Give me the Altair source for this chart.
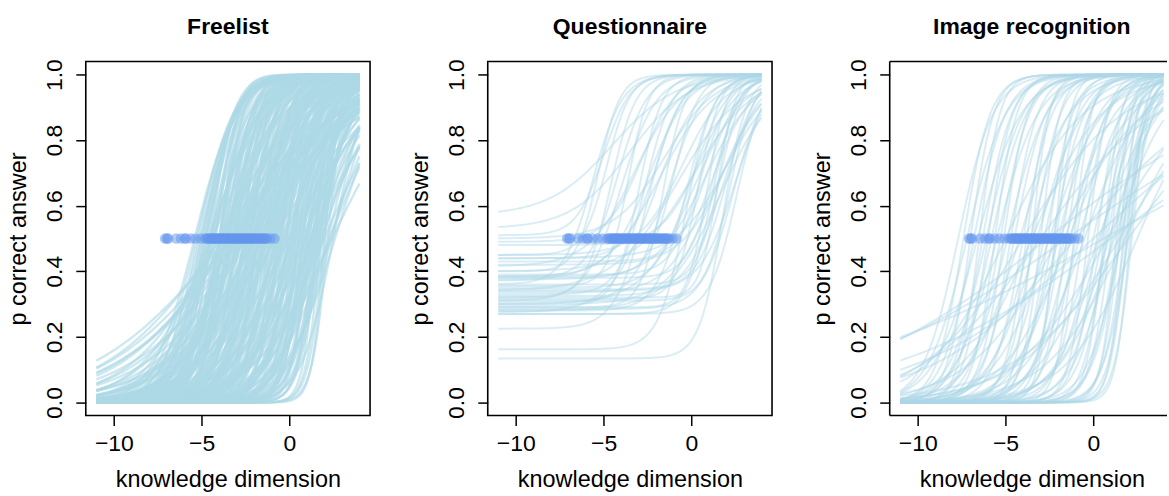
import numpy as np
import pandas as pd
import altair as alt

alt.data_transformers.disable_max_rows()

# ---------------- item parameters ----------------
# Freelist: difficulty (b) and discrimination (a)
free_b = [-5.4, -5.3, -5.2, -5.1, -5.0, -4.7, -4.8, -4.5, -4.4, -4.5, -4.2, -4.3, -4.0, -3.9, -4.0, -3.9, -3.8, -3.7, -3.6, -3.5,
          -3.6, -3.2, -3.0, -2.8, -3.4, -4.0, -2.5, -3.8, -2.2, -4.4, -2.0, -3.0, -1.8, -4.6, -2.6, -1.5, -3.3, -3.9, -2.4, -1.0,
          -3.4, -3.3, -3.2, -3.1, -3.0, -2.9, -2.8, -2.7, -2.6, -2.5, -2.4, -2.3, -2.2, -2.1, -2.0, -1.9, -1.8, -1.7, -1.6, -1.5,
          -1.4, -1.3, -1.2, -1.1, -1.0, -0.9, -0.8, -0.7, -0.6, -0.5, -0.4, -0.3, -0.2, -0.1, 0.0, -2.75, -2.15, -1.65, -1.25, -0.85,
          -0.45, -3.05, -2.45, -1.95, -1.35, -0.95, -0.55, -0.15, -3.45, -2.05,
          0.1, 0.2, 0.3, 0.4, 0.5, 0.6, 0.7, 0.8, 0.9, 1.0, 1.1, 1.2, 1.3, 1.4, 1.5, 1.6, 1.7, 1.8, 1.9, 2.0, 2.05,
          0.15, 0.45, 0.85, 1.25, 0.35, 0.75, 1.15, 1.55, 0.05, 0.55, 0.95, 1.35, 1.75, 1.45,
          2.45, 2.3, 2.6, 2.0, 2.4, 1.8, 2.2, 1.6, 2.5, 1.9, 2.3, 1.3, 2.2,
          -4.9, -4.6, -4.3, -4.0, -3.85, -3.7, -3.55, -3.4, -3.25, -3.1, -2.95, -2.8, -2.65, -2.5,
          -2.35, -2.2, -2.05, -1.9, -1.75, -1.6, -1.45, -1.3, -1.15, -1.0, -0.85, -0.7, -0.55, -0.4, -0.25, -0.1,
          0.05, 0.2, 0.35, 0.5, 0.65, 0.8, 0.95, 1.1, 1.25, 1.4, 1.55, 1.7, 1.85,
          -3.9, -3.3, -2.7, -2.1, -1.5, -0.9, -0.3, 0.3, 0.9, 1.5, -4.5, -3.6, -2.9, -1.2, 0.0, 0.7, 1.2,
          -5.0, -4.75, -4.5, -4.25, -4.0, -3.75, -3.5, -3.25, -3.0, -2.75, -2.5, -2.25, -2.0, -1.75, -1.5,
          -1.25, -1.0, -0.75, -0.5, -0.25, -4.85, -4.4, -3.95, -3.65, -3.35, -2.85, -2.55, -2.3, -1.85, -1.55,
          -1.05, -0.65, 0.25, 0.6, 1.0, 1.3, 1.65, -3.15, -2.4, -1.7]
free_a = [0.85, 0.9, 1.0, 0.95, 1.1, 1.2, 1.0, 1.5, 1.3, 1.1, 1.6, 0.9, 1.4, 2.0, 1.2, 1.0, 1.7, 1.3, 0.9, 1.5,
          0.26, 0.30, 0.35, 0.28, 0.32, 0.40, 0.38, 0.45, 0.33, 0.50, 0.42, 0.50, 0.36, 0.60, 0.55, 0.40, 0.28, 0.30, 0.30, 0.33,
          0.7, 1.2, 0.9, 1.8, 0.6, 1.1, 1.4, 0.8, 2.0, 1.0, 0.65, 1.3, 1.7, 0.9, 1.2, 0.55, 1.5, 1.0, 2.2, 0.75,
          1.1, 1.6, 0.85, 1.3, 0.6, 1.9, 1.0, 1.4, 0.7, 1.2, 2.4, 0.9, 1.5, 0.65, 1.1, 0.5, 0.58, 0.48, 0.52, 0.45,
          0.55, 1.5, 1.6, 0.95, 0.8, 1.2, 0.95, 1.8, 1.05, 2.5,
          1.3, 0.8, 1.7, 1.0, 2.1, 0.7, 1.2, 1.5, 0.9, 2.3, 1.1, 0.75, 1.6, 1.3, 2.0, 0.95, 1.8, 2.4, 1.4, 2.2, 2.6,
          0.6, 0.65, 0.6, 0.6, 2.5, 2.0, 1.9, 2.6, 0.9, 1.4, 1.25, 1.05, 1.15, 0.85,
          0.45, 0.55, 0.7, 0.5, 0.8, 0.6, 0.9, 0.7, 1.1, 0.75, 0.65, 0.55, 2.2,
          1.1, 1.35, 0.8, 1.5, 0.95, 1.25, 0.7, 1.6, 1.0, 0.85, 1.3, 0.6, 1.7, 1.15,
          0.9, 1.45, 0.75, 1.9, 1.05, 0.65, 1.35, 0.95, 1.75, 0.7, 1.2, 0.8, 1.55, 1.0, 0.6, 2.0,
          0.85, 1.3, 0.7, 1.6, 1.0, 1.9, 0.8, 1.4, 1.1, 2.1, 0.9, 1.5, 1.2,
          0.55, 0.5, 0.45, 0.5, 0.55, 0.5, 0.6, 0.5, 0.55, 0.5, 0.7, 0.8, 0.65, 0.45, 0.4, 0.5, 0.45,
          1.0, 1.2, 0.9, 1.4, 1.05, 0.8, 1.3, 0.95, 1.6, 0.75, 1.1, 1.35, 0.85, 1.5, 1.0,
          0.7, 1.25, 0.9, 1.6, 1.05, 1.15, 0.75, 1.35, 0.95, 1.25, 0.85, 1.45, 0.7, 1.15, 1.3,
          0.9, 1.7, 1.2, 0.95, 1.5, 0.8, 1.35, 0.6, 0.65, 0.7]

# Questionnaire: guessing (c), difficulty (b), discrimination (a)
quest_c = [0.57, 0.53, 0.51, 0.50, 0.49, 0.48, 0.45, 0.45, 0.44, 0.43, 0.415, 0.40, 0.40, 0.385, 0.385, 0.38, 0.38, 0.375,
           0.37, 0.36, 0.355, 0.35, 0.345, 0.34, 0.335, 0.33, 0.325, 0.32, 0.315, 0.31, 0.305, 0.30, 0.295, 0.29, 0.285,
           0.28, 0.28, 0.275, 0.27, 0.27, 0.225, 0.162, 0.134, 0.39, 0.36, 0.31, 0.42, 0.34, 0.29, 0.30, 0.44, 0.32]
quest_b = [-4.5, -3.5, -5.0, -1.5, -2.8, 0.5, -4.8, -0.5, -2.0, 1.0, -3.2, -5.3, 0.2, -1.0, -2.4, 1.3, -4.2, 0.8,
           -1.8, 1.6, -3.6, 0.0, 2.0, -0.8, 1.1, -2.6, 1.8, -4.6, 0.4, 2.2, -1.3, 1.4, -3.0, 0.9, 2.4,
           -0.3, 1.7, -2.1, 1.2, 2.6, -2.5, -0.3, 1.8, 0.6, -5.6, -4.0, 1.9, 2.5, -1.6, 0.1, 2.0, 1.5]
quest_a = [0.55, 0.6, 1.3, 0.7, 1.0, 0.9, 1.5, 0.8, 1.2, 1.1, 0.75, 1.6, 0.6, 1.4, 0.9, 1.3, 1.2, 0.7,
           0.65, 1.5, 1.7, 1.0, 1.2, 0.55, 0.85, 1.3, 0.95, 1.4, 1.6, 1.4, 1.0, 0.75, 1.5, 1.8, 1.1,
           1.2, 0.65, 0.8, 1.4, 1.3, 1.1, 1.3, 1.5, 1.2, 1.2, 1.0, 0.8, 1.0, 1.6, 0.7, 0.7, 2.0]

# Image recognition: difficulty (b) and discrimination (a)
img_b = [-7.7, -7.4, -7.2, -7.0, -6.8, -6.6, -6.5, -6.3, -6.1, -6.0, -5.8, -5.6, -5.5, -5.3, -5.1, -4.9, -4.7, -4.5,
         -4.2, -4.0, -3.8, -3.6, -3.4, -3.2, -3.0, -2.8, -2.6, -2.5, -2.3, -2.1, -2.0, -1.8, -1.6, -1.5, -1.3, -1.1,
         -1.0, -0.8, -0.6, -0.5, -0.3, -3.5, -2.2, -1.4,
         0.0, 0.2, 0.4, 0.6, 0.8, 1.0, 1.1, 1.3, 1.4, 1.5, 1.6, 1.7, 1.8, 1.9, 2.0, 2.1, 2.2, 0.3, 0.9, 1.2,
         0.5, 1.55, 0.7, 1.95,
         -2.6, -1.5, 0.6, 1.0, 0.0, -1.0, 2.0, 1.5, -3.0, -4.0, -2.0, 2.5, 1.8, -5.0, -3.5, 0.8]
img_a = [1.0, 1.3, 0.9, 1.5, 1.1, 0.8, 1.7, 1.2, 0.95, 1.4, 1.0, 1.6, 0.85, 1.2, 1.45, 0.9, 1.3, 1.1,
         0.7, 1.2, 1.6, 0.9, 1.3, 0.75, 1.8, 1.0, 1.4, 0.65, 1.1, 1.7, 0.85, 1.25, 0.7, 1.5, 0.95, 2.0,
         1.15, 0.8, 1.35, 0.6, 1.8, 2.0, 2.2, 0.55,
         1.0, 1.5, 0.8, 2.0, 1.2, 1.7, 0.9, 2.3, 1.3, 1.9, 1.05, 2.5, 1.6, 2.1, 1.4, 2.4, 2.0, 0.6, 0.7, 0.65,
         1.1, 1.25, 1.6, 1.8,
         0.17, 0.15, 0.12, 0.16, 0.2, 0.25, 0.3, 0.35, 0.3, 0.35, 0.4, 0.5, 0.45, 0.45, 0.5, 0.38]

# person knowledge estimates, drawn at p = 0.5
knowledge = [-7.08, -6.98, -6.9, -6.45, -6.18, -5.95, -5.9, -5.62, -5.35, -5.05, -4.8, -4.7, -4.62, -4.55,
             -4.48, -4.4, -4.35, -4.3, -4.22, -4.15, -4.1, -4.02, -3.95, -3.9, -3.82, -3.75, -3.7, -3.62,
             -3.55, -3.5, -3.42, -3.35, -3.3, -3.22, -3.15, -3.1, -3.02, -2.95, -2.9, -2.82, -2.75, -2.7,
             -2.62, -2.55, -2.5, -2.42, -2.35, -2.3, -2.22, -2.15, -2.1, -2.02, -1.95, -1.88, -1.8, -1.72,
             -1.65, -1.58, -1.5, -1.42, -1.35, -1.28, -1.08, -0.85]

titles = ["Freelist", "Questionnaire", "Image recognition"]

# R's curve() samples 101 points over the plotted range
x_grid = np.linspace(-11, 4, 101)


def curves(b_list, a_list, c_list=None):
    rows = []
    for i, (b, a) in enumerate(zip(b_list, a_list)):
        c = 0.0 if c_list is None else c_list[i]
        p = c + (1 - c) / (1 + np.exp(-a * (x_grid - b)))
        rows.append(pd.DataFrame({"item": i, "x": np.round(x_grid, 3), "p": np.round(p, 4)}))
    return pd.concat(rows, ignore_index=True)


pts_df = pd.DataFrame({"x": knowledge, "p": [0.5] * len(knowledge)})

FONT = "Liberation Sans"
W, H = 285, 355
SPACING = 118


def panel(df, title, width, xmax, dx=0.0, border=False, lw=2.0, op=0.45):
    xs = alt.Scale(domain=[-11.6, xmax], nice=False, zero=False)
    ys = alt.Scale(domain=[-0.04, 1.04], nice=False, zero=False)
    xaxis = alt.Axis(values=[-10, -5, 0], format="d", title="knowledge dimension",
                     domain=False, grid=False, tickSize=10, tickWidth=1.5, tickColor="black",
                     labelFont=FONT, labelFontSize=23, labelColor="black",
                     labelBaseline="alphabetic", labelPadding=25.5, labelFlush=False,
                     titleFont=FONT, titleFontSize=23.5, titleFontWeight="normal", titleColor="black",
                     titleX=142.5, titleY=71, titleAlign="center", titleBaseline="alphabetic")
    yaxis = alt.Axis(values=[0, 0.2, 0.4, 0.6, 0.8, 1.0], format=".1f", title="p correct answer",
                     domain=False, grid=False, tickSize=10, tickWidth=1.5, tickColor="black",
                     labelFont=FONT, labelFontSize=23, labelColor="black", labelAngle=270,
                     labelAlign="center", labelBaseline="alphabetic", labelPadding=14, labelFlush=False,
                     labelOverlap=False,
                     titleFont=FONT, titleFontSize=23.5, titleFontWeight="normal", titleColor="black",
                     titleAngle=270, titleX=-60, titleY=H / 2, titleAlign="center", titleBaseline="alphabetic")
    lines = alt.Chart(df).mark_line(color="#ADD8E6", strokeWidth=lw, opacity=op).encode(
        x=alt.X("x:Q", scale=xs, axis=xaxis),
        y=alt.Y("p:Q", scale=ys, axis=yaxis),
        detail="item:N",
    )
    pts = alt.Chart(pts_df).mark_circle(color="#6495ED", opacity=0.5, size=110).encode(
        x=alt.X("x:Q", scale=xs, axis=xaxis),
        y=alt.Y("p:Q", scale=ys, axis=yaxis),
    )
    layers = [lines, pts]
    if border:
        one = pd.DataFrame({"k": [0]})
        bw = 1.6
        layers += [
            alt.Chart(one).mark_rule(color="black", strokeWidth=bw).encode(
                x=alt.value(0), y=alt.value(0), y2=alt.value(H)),
            alt.Chart(one).mark_rule(color="black", strokeWidth=bw).encode(
                x=alt.value(0), x2=alt.value(width), y=alt.value(0)),
            alt.Chart(one).mark_rule(color="black", strokeWidth=bw).encode(
                x=alt.value(0), x2=alt.value(width), y=alt.value(H)),
        ]
    tp = dict(text=title, font=FONT, fontSize=23, fontWeight="bold", color="black",
              anchor="middle", baseline="alphabetic", offset=2)
    if dx:
        tp["dx"] = dx
    ch = alt.layer(*layers).properties(width=width, height=H, title=alt.TitleParams(**tp))
    if border:
        ch = ch.properties(view=alt.ViewBackground(stroke="transparent"))
    return ch


p1 = panel(curves(free_b, free_a), titles[0], W, 4.6, lw=2.4, op=0.6)
p2 = panel(curves(quest_b, quest_a, quest_c), titles[1], W, 4.6)
w3 = 1169 - (85 + 2 * (W + SPACING))
xmax3 = -11.6 + w3 * (16.2 / W)
p3 = panel(curves(img_b, img_a), titles[2], w3, round(xmax3, 4), dx=(W - w3) / 2, border=True)

chart = alt.hconcat(p1, p2, p3, spacing=SPACING, bounds="flush").properties(
    padding={"left": 6, "top": 14, "right": 0, "bottom": 0},
    background="white",
).configure(
    font=FONT,
    view=alt.ViewConfig(stroke="black", strokeWidth=1.6),
)

chart.save("out.html", embed_options={"renderer": "svg", "actions": False})
